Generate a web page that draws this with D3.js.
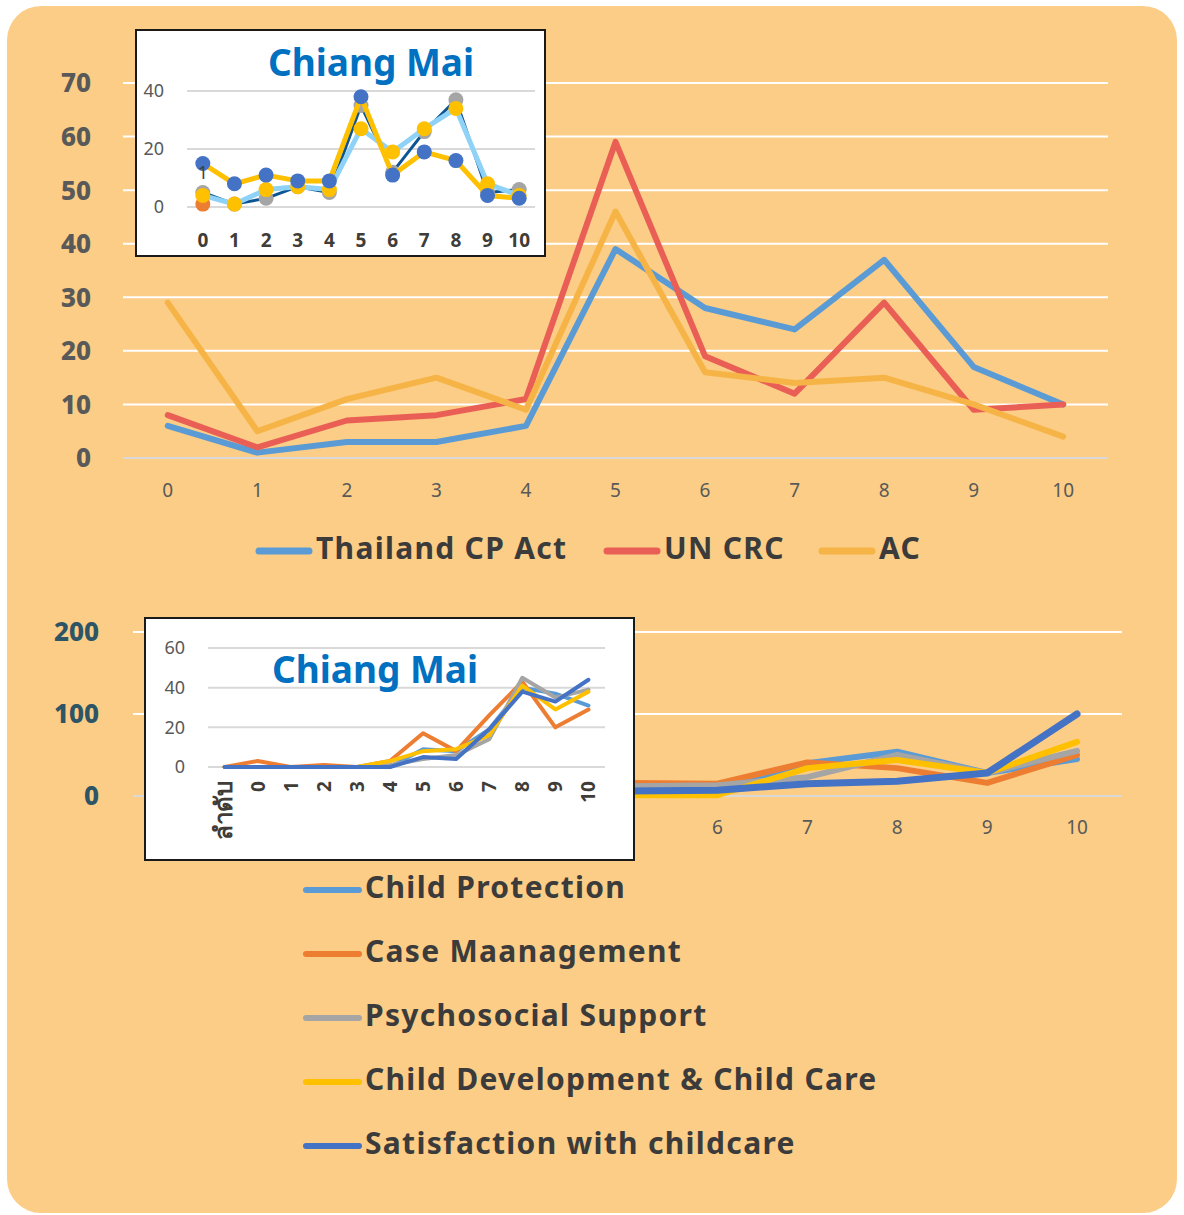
<!DOCTYPE html>
<html>
<head>
<meta charset="utf-8">
<script src="https://cdn.jsdelivr.net/npm/d3@7"></script>
<style>
  body { margin: 0; background: #fff; }
  svg { display: block; }
</style>
</head>
<body>
<svg id="chart" width="1184" height="1215"></svg>
<script>
// top chart: 0..10
const topCats = ['0','1','2','3','4','5','6','7','8','9','10']
const topTicks = [0,10,20,30,40,50,60,70]
const cpAct = [6,1,3,3,6,39,28,24,37,17,10]
const unCrc = [8,2,7,8,11,59,19,12,29,9,10]
const acVals = [29,5,11,15,9,46,16,14,15,10,4]
const topNames = ['Thailand CP Act','UN CRC','AC']

// top inset (Chiang Mai)
const insetTopTicks = [0,20,40]
const insetA = [5,1,3,7,5,35,12,26,37,5,6]
const insetB = [4,1,6,7,6,27,19,27,34,8,4]
const insetC = [15,8,11,9,9,38,11,19,16,4,3]
const insetD = [1]

// bottom chart: 0..10
const botCats = ['0','1','2','3','4','5','6','7','8','9','10']
const botTicks = [0,100,200]
const childProt = [2,1,1,2,3,8,7,40,54,28,45]
const caseMgmt = [5,3,2,3,6,16,15,41,34,16,50]
const psySupport = [2,1,1,1,3,12,13,23,50,28,55]
const childDev = [1,0,1,1,2,1,1,34,44,28,66]
const satisfaction = [1,1,1,2,3,6,7,15,18,28,100]
const botNames = ['Child Protection','Case Maanagement','Psychosocial Support','Child Development & Child Care','Satisfaction with childcare']

// bottom inset (Chiang Mai)
const insetBotCats = ['ลำดับ','0','1','2','3','4','5','6','7','8','9','10']
const insetBotTicks = [0,20,40,60]
const inCP = [0,0,0,0,0,0,9,8,19,40,37,31]
const inCase = [0,3,0,1,0,3,17,8,26,43,20,29]
const inPsy = [0,0,0,0,0,1,4,6,14,45,35,39]
const inDev = [0,0,0,0,0,3,8,9,16,41,29,38]
const inSat = [0,0,0,0,0,0,5,4,19,38,33,44]

const svg = d3.select('#chart')
const font = '"Noto Sans", "DejaVu Sans", sans-serif'

// rounded background panel
svg.append('rect')
    .attr('x', 7).attr('y', 6)
    .attr('width', 1170).attr('height', 1207)
    .attr('rx', 34)
    .attr('fill', '#fbcd86')

function grid(g, y, ticks, x0, x1, zeroColor, color, w) {
    g.selectAll(null).data(ticks).enter().append('line')
        .attr('x1', x0).attr('x2', x1)
        .attr('y1', d => y(d)).attr('y2', d => y(d))
        .attr('stroke', d => d === 0 ? zeroColor : color)
        .attr('stroke-width', w)
}

function drawLines(g, x, y, cats, series, colors, widths) {
    const line = d3.line().x((d, i) => x(cats[i])).y(d => y(d))
    series.forEach((s, k) => {
        g.append('path')
            .attr('d', line(s))
            .attr('fill', 'none')
            .attr('stroke', colors[k])
            .attr('stroke-width', widths[k])
            .attr('stroke-linejoin', 'round')
            .attr('stroke-linecap', 'round')
    })
}

/* ---------- top main chart ---------- */
const topG = svg.append('g')
const xTop = d3.scalePoint().domain(topCats).range([123, 1108]).padding(0.5)
const yTop = d3.scaleLinear().domain([0, 70]).range([458, 83])
grid(topG, yTop, topTicks, 123, 1108, '#d9d9d9', '#ffffff', 2)

topG.selectAll(null).data(topTicks).enter().append('text')
    .attr('x', 91).attr('y', d => yTop(d)).attr('dy', '0.36em')
    .attr('text-anchor', 'end')
    .attr('font-family', font).attr('font-weight', 800).attr('font-size', 26)
    .attr('fill', '#595959')
    .text(d => d)

topG.selectAll(null).data(topCats).enter().append('text')
    .attr('x', d => xTop(d)).attr('y', 497)
    .attr('text-anchor', 'middle')
    .attr('font-family', font).attr('font-size', 19)
    .attr('fill', '#595959')
    .text(d => d)

const topColors = ['#5b9bd5', '#e95f55', '#f6b446']
drawLines(topG, xTop, yTop, topCats, [cpAct, unCrc, acVals], topColors, [6, 6, 6])

// top legend
const topLegX = [256, 604, 819]
topNames.forEach((n, i) => {
    topG.append('line')
        .attr('x1', topLegX[i] + 3).attr('x2', topLegX[i] + 53)
        .attr('y1', 551).attr('y2', 551)
        .attr('stroke', topColors[i]).attr('stroke-width', 7).attr('stroke-linecap', 'round')
    topG.append('text')
        .attr('x', topLegX[i] + 60).attr('y', 559)
        .attr('font-family', font).attr('font-weight', 700).attr('font-size', 30)
        .attr('letter-spacing', 1.3)
        .attr('fill', '#3b3b3b')
        .text(n)
})

/* ---------- top inset ---------- */
const inTop = svg.append('g')
inTop.append('rect')
    .attr('x', 136).attr('y', 30).attr('width', 409).attr('height', 226)
    .attr('fill', '#fff').attr('stroke', '#1a1a1a').attr('stroke-width', 2)
const xIT = d3.scalePoint().domain(topCats).range([187, 535]).padding(0.5)
const yIT = d3.scaleLinear().domain([0, 40]).range([207, 91])
grid(inTop, yIT, insetTopTicks, 187, 535, '#d9d9d9', '#d9d9d9', 2)

inTop.selectAll(null).data(insetTopTicks).enter().append('text')
    .attr('x', 164).attr('y', d => yIT(d)).attr('dy', '0.36em')
    .attr('text-anchor', 'end')
    .attr('font-family', font).attr('font-size', 18)
    .attr('fill', '#595959')
    .text(d => d)

inTop.selectAll(null).data(topCats).enter().append('text')
    .attr('x', d => xIT(d)).attr('y', 247)
    .attr('text-anchor', 'middle')
    .attr('font-family', font).attr('font-weight', 700).attr('font-size', 19)
    .attr('fill', '#403c38')
    .text(d => d)

inTop.append('text')
    .attr('x', 371).attr('y', 76)
    .attr('text-anchor', 'middle')
    .attr('font-family', font).attr('font-weight', 700).attr('font-size', 37)
    .attr('fill', '#0070c0')
    .text('Chiang Mai')

// series: line colour / marker colour
const insetSeries = [insetD, insetA, insetB, insetC]
const insetLine = ['#ed7d31', '#0d5592', '#8fd2f7', '#ffc000']
const insetLineW = [0, 3, 5, 5]
const insetMark = ['#ed7d31', '#a5a5a5', '#ffc000', '#4472c4']
const lineIT = d3.line().x((d, i) => xIT(topCats[i])).y(d => yIT(d))
insetSeries.forEach((s, k) => {
    if (s.length > 1) {
        inTop.append('path')
            .attr('d', lineIT(s))
            .attr('fill', 'none')
            .attr('stroke', insetLine[k]).attr('stroke-width', insetLineW[k])
            .attr('stroke-linejoin', 'round')
    }
    inTop.selectAll(null).data(s).enter().append('circle')
        .attr('cx', (d, i) => xIT(topCats[i])).attr('cy', d => yIT(d))
        .attr('r', 7.5)
        .attr('fill', insetMark[k])
})
// data label
inTop.append('text')
    .attr('x', xIT('0')).attr('y', yIT(insetA[0]) - 14)
    .attr('text-anchor', 'middle')
    .attr('font-family', font).attr('font-size', 18)
    .attr('fill', '#404040')
    .text(insetD[0])

/* ---------- bottom main chart ---------- */
const botG = svg.append('g')
const xBot = d3.scalePoint().domain(botCats).range([133, 1122]).padding(0.5)
const yBot = d3.scaleLinear().domain([0, 200]).range([796, 632])
grid(botG, yBot, botTicks, 133, 1122, '#d9d9d9', '#ffffff', 2)

botG.selectAll(null).data(botTicks).enter().append('text')
    .attr('x', 99).attr('y', d => yBot(d)).attr('dy', '0.36em')
    .attr('text-anchor', 'end')
    .attr('font-family', font).attr('font-weight', 800).attr('font-size', 26)
    .attr('fill', '#2d5566')
    .text(d => d)

botG.selectAll(null).data(botCats).enter().append('text')
    .attr('x', d => xBot(d)).attr('y', 834)
    .attr('text-anchor', 'middle')
    .attr('font-family', font).attr('font-size', 19)
    .attr('fill', '#595959')
    .text(d => d)

const botColors = ['#5b9bd5', '#ed7d31', '#a5a5a5', '#ffc000', '#4472c4']
drawLines(botG, xBot, yBot, botCats,
    [childProt, caseMgmt, psySupport, childDev, satisfaction], botColors, [6, 6, 6, 6, 7])

/* ---------- bottom inset ---------- */
const inBot = svg.append('g')
inBot.append('rect')
    .attr('x', 145).attr('y', 618).attr('width', 489).attr('height', 242)
    .attr('fill', '#fff').attr('stroke', '#1a1a1a').attr('stroke-width', 2)
const xIB = d3.scalePoint().domain(insetBotCats).range([208, 605]).padding(0.5)
const yIB = d3.scaleLinear().domain([0, 60]).range([767, 648])
grid(inBot, yIB, insetBotTicks, 208, 605, '#d9d9d9', '#d9d9d9', 2)

inBot.selectAll(null).data(insetBotTicks).enter().append('text')
    .attr('x', 185).attr('y', d => yIB(d)).attr('dy', '0.36em')
    .attr('text-anchor', 'end')
    .attr('font-family', font).attr('font-size', 18)
    .attr('fill', '#595959')
    .text(d => d)

// the Thai category label renders in a smaller fallback face, so bump it
inBot.selectAll(null).data(insetBotCats).enter().append('text')
    .attr('transform', d => `translate(${xIB(d) + 7},781) rotate(-90)`)
    .attr('text-anchor', 'end')
    .attr('font-family', font).attr('font-weight', 700)
    .attr('font-size', d => isNaN(+d) ? 24 : 19)
    .attr('fill', '#403c38')
    .text(d => d)

inBot.append('text')
    .attr('x', 375).attr('y', 683)
    .attr('text-anchor', 'middle')
    .attr('font-family', font).attr('font-weight', 700).attr('font-size', 37)
    .attr('fill', '#0070c0')
    .text('Chiang Mai')

drawLines(inBot, xIB, yIB, insetBotCats,
    [inCP, inCase, inPsy, inDev, inSat], botColors, [4, 4, 4, 4, 4])

// bottom legend
botNames.forEach((n, i) => {
    const y = 887 + i * 64
    botG.append('line')
        .attr('x1', 306).attr('x2', 359)
        .attr('y1', y + 3).attr('y2', y + 3)
        .attr('stroke', botColors[i]).attr('stroke-width', 6).attr('stroke-linecap', 'round')
    botG.append('text')
        .attr('x', 365).attr('y', y + 11)
        .attr('font-family', font).attr('font-weight', 700).attr('font-size', 30)
        .attr('letter-spacing', 1.3)
        .attr('fill', '#3b3b3b')
        .text(n)
})
</script>
</body>
</html>
